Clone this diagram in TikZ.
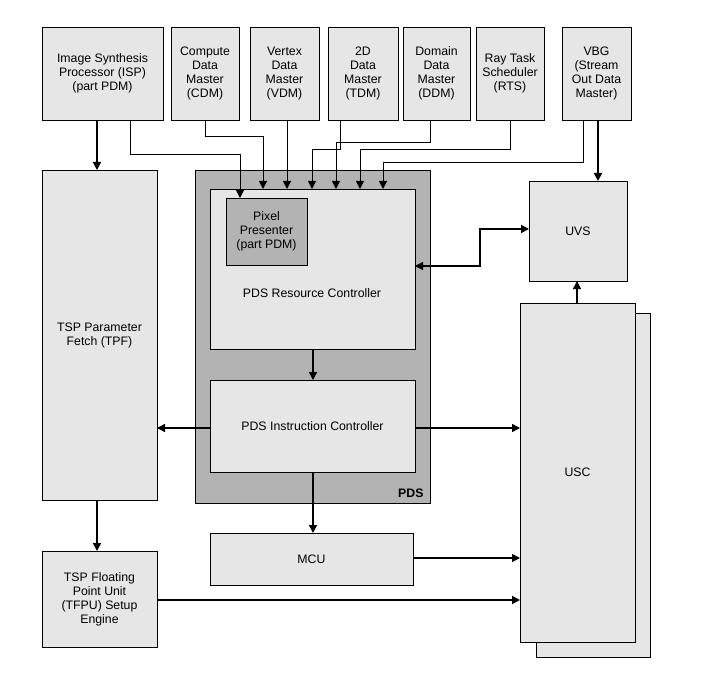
\documentclass[tikz,border=0pt]{standalone}
\usepackage{fontspec}
\setmainfont{Liberation Sans}
\usetikzlibrary{arrows.meta}
\definecolor{lg}{HTML}{E6E6E6}
\definecolor{dg}{HTML}{B3B3B3}
\begin{document}
\begin{tikzpicture}[x=1pt,y=-1pt,
  box/.style={draw,fill=lg,line width=0.8pt},
  txt/.style={align=center,font=\fontsize{12.3}{14}\selectfont},
  ar/.style={-{Triangle[length=8pt,width=8pt]},line width=1.5pt},
  ar2/.style={{Triangle[length=8pt,width=8pt]}-{Triangle[length=8pt,width=8pt]},line width=1.5pt}]
\useasboundingbox (0,0) rectangle (704,679);
\def\bx#1#2#3#4#5#6{\path[box] (#2,#3) rectangle (#4,#5); \node[txt] (#1) at ({(#2+#4)/2},{(#3+#5)/2}) {#6};}
\bx{isp}{42}{27}{163}{120}{Image Synthesis\\Processor (ISP)\\(part PDM)}
\bx{cdm}{171}{27}{239}{120}{Compute\\Data\\Master\\(CDM)}
\bx{vdm}{250}{27}{319}{120}{Vertex\\Data\\Master\\(VDM)}
\bx{tdm}{328}{27}{398}{120}{2D\\Data\\Master\\(TDM)}
\bx{ddm}{403}{27}{470}{120}{Domain\\Data\\Master\\(DDM)}
\bx{rts}{476}{27}{544}{120}{Ray Task\\Scheduler\\(RTS)}
\bx{vbg}{562}{27}{631}{120}{VBG\\(Stream\\Out Data\\Master)}
\bx{tpf}{42}{170}{157}{500}{TSP Parameter\\Fetch (TPF)}
\path[draw,fill=dg,line width=0.8pt] (195,170) rectangle (430,503);
\node[txt,font=\fontsize{12.3}{14}\selectfont\bfseries,anchor=south east] (pdsl) at (427,501) {PDS};
\path[box] (210,189) rectangle (415,349);
\node[txt] (rc) at (312,293) {PDS Resource Controller};
\path[box,fill=dg] (226,198) rectangle (307,265);
\node[txt] (pp) at (266.5,231.5) {Pixel\\Presenter\\(part PDM)};
\bx{ic}{210}{380}{415}{472}{PDS Instruction Controller}
\bx{uvs}{529}{181}{627}{281}{UVS}
\path[box] (536,313) rectangle (650,657);
\bx{usc}{520}{303}{635}{642}{USC}
\bx{mcu}{210}{533}{413}{585}{MCU}
\bx{tfpu}{42}{551}{157}{647}{TSP Floating\\Point Unit\\(TFPU) Setup\\Engine}
% arrows
\draw[ar] (97,120) -- (97,170);
\draw[ar,line width=1pt] (130,120) |- (240,155) -- (240,198);
\draw[ar,line width=1pt] (205,120) |- (263,137) -- (263,189);
\draw[ar,line width=1pt] (287,120) -- (287,189);
\draw[ar,line width=1pt] (340,120) |- (312,150) -- (312,189);
\draw[ar,line width=1pt] (430,120) |- (336,143) -- (336,189);
\draw[ar,line width=1pt] (510,120) |- (360,150) -- (360,189);
\draw[ar,line width=1pt] (583,120) |- (383,163) -- (383,189);
\draw[ar,line width=2pt] (598,120) -- (598,181);
\draw[ar2] (415,266) -| (480,229) -- (529,229);
\draw[ar] (577,303) -- (577,281);
\draw[ar] (313,349) -- (313,380);
\draw[ar] (210,428) -- (157,428);
\draw[ar] (415,428) -- (520,428);
\draw[ar] (313,472) -- (313,533);
\draw[ar] (413,558) -- (520,558);
\draw[ar] (97,500) -- (97,551);
\draw[ar] (157,600) -- (520,600);
\end{tikzpicture}
\end{document}
